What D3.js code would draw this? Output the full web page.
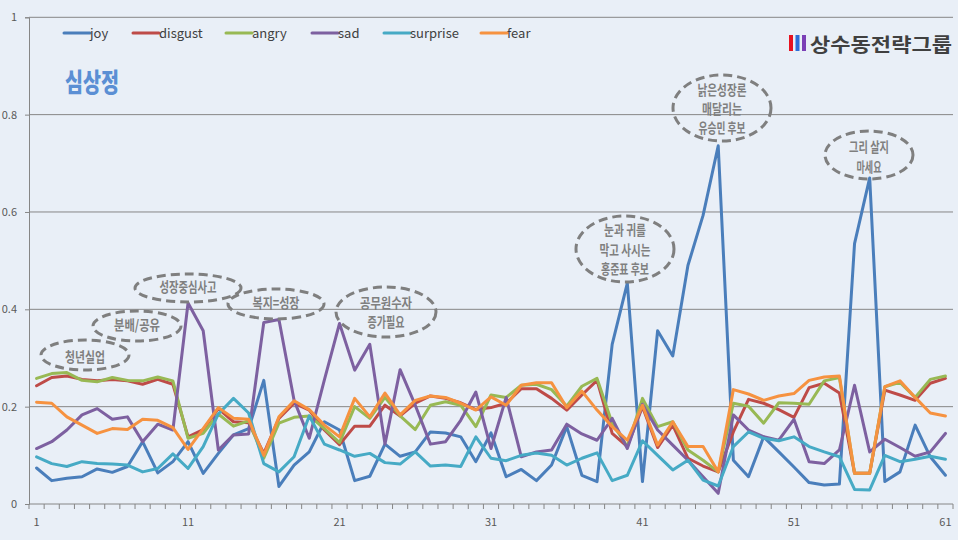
<!DOCTYPE html>
<html><head><meta charset="utf-8">
<script src="https://cdn.jsdelivr.net/npm/d3@7"></script>
<style>
html,body{margin:0;padding:0;background:#E9EFF7;}
svg{display:block;}
</style></head>
<body>
<svg id="chart" width="958" height="540"></svg>
<script>
const categories = d3.range(1, 62);
const seriesNames = ["joy","disgust","angry","sad","surprise","fear"];
const joy = [0.074,0.048,0.053,0.056,0.072,0.065,0.077,0.128,0.064,0.087,0.128,0.063,0.104,0.142,0.155,0.254,0.036,0.080,0.107,0.169,0.152,0.048,0.057,0.123,0.098,0.107,0.148,0.146,0.138,0.087,0.146,0.056,0.071,0.048,0.080,0.159,0.059,0.046,0.328,0.454,0.046,0.356,0.304,0.490,0.593,0.736,0.090,0.056,0.138,0.107,0.076,0.044,0.039,0.041,0.535,0.670,0.046,0.066,0.162,0.097,0.059];
const disgust = [0.243,0.260,0.263,0.256,0.253,0.256,0.253,0.246,0.256,0.246,0.138,0.153,0.196,0.169,0.167,0.104,0.176,0.207,0.193,0.152,0.122,0.160,0.160,0.203,0.181,0.207,0.222,0.217,0.208,0.194,0.198,0.207,0.237,0.237,0.217,0.193,0.224,0.254,0.145,0.118,0.200,0.116,0.162,0.094,0.078,0.066,0.148,0.215,0.207,0.194,0.178,0.239,0.248,0.228,0.063,0.063,0.234,0.224,0.213,0.248,0.258];
const angry = [0.258,0.268,0.270,0.254,0.251,0.260,0.254,0.253,0.261,0.253,0.135,0.145,0.185,0.160,0.171,0.094,0.166,0.178,0.181,0.155,0.126,0.200,0.176,0.219,0.181,0.153,0.203,0.210,0.203,0.159,0.224,0.219,0.244,0.246,0.235,0.201,0.242,0.258,0.166,0.118,0.217,0.159,0.169,0.111,0.090,0.066,0.207,0.201,0.166,0.208,0.207,0.205,0.253,0.260,0.063,0.063,0.241,0.250,0.219,0.256,0.263];
const sad = [0.114,0.128,0.152,0.183,0.196,0.174,0.179,0.128,0.164,0.152,0.413,0.356,0.111,0.142,0.144,0.373,0.379,0.213,0.135,0.255,0.371,0.275,0.328,0.123,0.276,0.203,0.123,0.128,0.172,0.230,0.114,0.219,0.097,0.107,0.111,0.164,0.144,0.131,0.176,0.114,0.205,0.152,0.121,0.090,0.056,0.022,0.183,0.152,0.138,0.131,0.174,0.087,0.083,0.111,0.244,0.107,0.133,0.116,0.098,0.107,0.145];
const surprise = [0.097,0.083,0.077,0.087,0.083,0.082,0.080,0.066,0.073,0.103,0.073,0.118,0.185,0.217,0.187,0.083,0.066,0.097,0.181,0.123,0.111,0.098,0.104,0.085,0.082,0.107,0.078,0.080,0.077,0.138,0.094,0.089,0.100,0.105,0.100,0.080,0.094,0.105,0.048,0.059,0.130,0.100,0.070,0.090,0.049,0.037,0.118,0.148,0.135,0.130,0.138,0.118,0.107,0.097,0.030,0.029,0.100,0.087,0.092,0.098,0.092];
const fear = [0.209,0.207,0.179,0.162,0.145,0.155,0.153,0.174,0.172,0.157,0.112,0.155,0.198,0.176,0.174,0.100,0.179,0.212,0.194,0.162,0.138,0.217,0.179,0.228,0.183,0.213,0.222,0.219,0.207,0.193,0.220,0.203,0.244,0.249,0.249,0.198,0.232,0.193,0.159,0.131,0.203,0.121,0.169,0.118,0.118,0.066,0.235,0.226,0.213,0.222,0.227,0.254,0.261,0.263,0.063,0.063,0.241,0.253,0.219,0.187,0.181];
const yTicks = [0, 0.2, 0.4, 0.6, 0.8, 1];
const xTickLabels = [1, 11, 21, 31, 41, 51, 61];
const titleText = "심상정";
const logoText = "상수동전략그룹";
const annotationTexts = [
  ["청년실업"], ["분배/공유"], ["성장중심사고"], ["복지=성장"],
  ["공무원수자","증가필요"], ["눈과 귀를","막고 사시는","홍준표 후보"],
  ["낡은성장론","매달리는","유승민 후보"], ["그리 살지","마세요"]
];

const seriesValues = [joy, disgust, angry, sad, surprise, fear];
const colors = ["#4A7EBB","#BE4B48","#98B954","#7D60A0","#46AAC5","#F69240"];

const svg = d3.select("#chart");
const L = 29, R = 953, T = 17.3, B = 504;
const x = d3.scaleBand().domain(categories).range([L, R]);
const cx = d => x(d) + x.bandwidth() / 2;
const y = d3.scaleLinear().domain([0, 1]).range([B, T]);

// gridlines
svg.append("g").selectAll("line").data(yTicks.filter(t => t > 0)).join("line")
  .attr("x1", L).attr("x2", R).attr("y1", d => y(d)).attr("y2", d => y(d))
  .attr("stroke", "#868686").attr("stroke-width", 1);

// y axis
const yAxis = svg.append("g").attr("transform", `translate(${L},0)`)
  .call(d3.axisLeft(y).tickValues(yTicks).tickSize(4).tickPadding(8).tickFormat(d => d === 0 ? "0" : d === 1 ? "1" : d3.format(".1f")(d)));
yAxis.select(".domain").attr("stroke", "#868686");
yAxis.selectAll(".tick line").attr("stroke", "#868686");
yAxis.selectAll("text").attr("fill", "#595959").style("font-family", "'Noto Sans CJK KR', 'Noto Sans', sans-serif").style("font-size", "11px");

// x axis
svg.append("line").attr("x1", L).attr("x2", R).attr("y1", B).attr("y2", B).attr("stroke", "#868686");
svg.append("g").selectAll("line").data(categories.concat([62])).join("line")
  .attr("x1", d => d <= 61 ? x(d) : R).attr("x2", d => d <= 61 ? x(d) : R)
  .attr("y1", B).attr("y2", B + 5).attr("stroke", "#868686");
svg.append("g").selectAll("text").data(xTickLabels).join("text")
  .attr("x", d => cx(d)).attr("y", 526).attr("text-anchor", "middle")
  .attr("fill", "#595959").style("font-family", "'Noto Sans CJK KR', 'Noto Sans', sans-serif").style("font-size", "11px")
  .text(d => d);

// lines
const line = d3.line().x((d, i) => cx(categories[i])).y(d => y(d)).curve(d3.curveLinear);
svg.append("g").selectAll("path").data(seriesValues).join("path")
  .attr("d", d => line(d)).attr("fill", "none")
  .attr("stroke", (d, i) => colors[i]).attr("stroke-width", 3)
  .attr("stroke-linejoin", "round").attr("stroke-linecap", "round");

// legend
const legendX = [64, 133, 226, 312, 384, 481];
const lg = svg.append("g").selectAll("g").data(seriesNames).join("g")
  .attr("transform", (d, i) => `translate(${legendX[i]},33)`);
lg.append("line").attr("x1", 0).attr("x2", 26).attr("y1", 0).attr("y2", 0)
  .attr("stroke", (d, i) => colors[i]).attr("stroke-width", 3).attr("stroke-linecap", "round");
lg.append("text").attr("x", 26).attr("y", 5).attr("fill", "#404040")
  .style("font-family", "'Noto Sans CJK KR', 'Noto Sans', sans-serif").style("font-size", "13px")
  .text(d => d);

// title
svg.append("text").attr("x", 65).attr("y", 92).attr("fill", "#5B8FD4")
  .attr("textLength", 54).attr("lengthAdjust", "spacingAndGlyphs")
  .style("font-family", "'Noto Sans CJK KR', sans-serif").style("font-size", "26px").style("font-weight", "900")
  .text(titleText);

// logo
const barColors = ["#E8121F", "#2E6ED6", "#7B3FB6"];
svg.append("g").selectAll("rect").data(barColors).join("rect")
  .attr("x", (d, i) => 789 + i * 6.5).attr("y", 35).attr("width", 4).attr("height", 16).attr("fill", d => d);
svg.append("text").attr("x", 810).attr("y", 52).attr("fill", "#404040")
  .attr("textLength", 142).attr("lengthAdjust", "spacingAndGlyphs")
  .style("font-family", "'Noto Sans CJK KR', sans-serif").style("font-size", "19px").style("font-weight", "700")
  .text(logoText);

// annotations
const annLayout = [
  {cx: 85, cy: 355, rx: 44, ry: 15, ty: [357], w: [40]},
  {cx: 137, cy: 326, rx: 44, ry: 15, ty: [325], w: [46]},
  {cx: 188, cy: 288, rx: 53, ry: 14, ty: [287], w: [57]},
  {cx: 276, cy: 304, rx: 48, ry: 15, ty: [303], w: [47]},
  {cx: 386, cy: 312, rx: 50, ry: 25, ty: [303, 322], w: [52, 37]},
  {cx: 625, cy: 249, rx: 49, ry: 33, ty: [230, 250, 269], w: [42, 51, 48]},
  {cx: 722, cy: 108, rx: 49, ry: 33, ty: [90, 109, 128], w: [49, 40, 47]},
  {cx: 869, cy: 155, rx: 44, ry: 24, ty: [147, 167], w: [40, 25]}
];
const ag = svg.append("g").selectAll("g").data(annotationTexts).join("g");
ag.append("ellipse")
  .attr("cx", (d, i) => annLayout[i].cx).attr("cy", (d, i) => annLayout[i].cy)
  .attr("rx", (d, i) => annLayout[i].rx).attr("ry", (d, i) => annLayout[i].ry)
  .attr("fill", "none").attr("stroke", "#7F7F7F").attr("stroke-width", 3).attr("stroke-dasharray", "9,5");
ag.each(function(d, i) {
  const g = d3.select(this);
  d.forEach((t, j) => {
    g.append("text").attr("x", annLayout[i].cx).attr("y", annLayout[i].ty[j] + 5)
      .attr("text-anchor", "middle").attr("fill", "#7F7F7F")
      .attr("textLength", annLayout[i].w[j]).attr("lengthAdjust", "spacingAndGlyphs")
      .style("font-family", "'Noto Sans CJK KR', sans-serif").style("font-size", "14px").style("font-weight", "700")
      .text(t);
  });
});
</script>
</body></html>
